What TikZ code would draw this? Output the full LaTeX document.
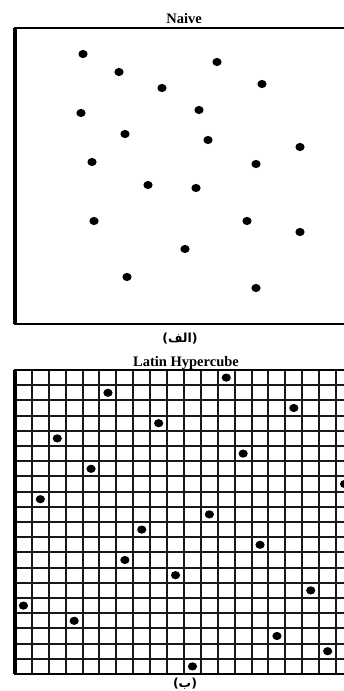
\documentclass[tikz,border=0pt]{standalone}
\usepackage{fontspec}
\setmainfont{Liberation Serif}
\newfontfamily\arabicfont[Script=Arabic]{DejaVu Sans}
\newfontfamily\parenfont{DejaVu Sans}
\TeXXeTstate=1

\tikzset{
  frame/.style={draw=black, line width=2.4pt},
  gridline/.style={draw=black!90, line width=1.7pt},
  dot/.style={fill=black},
  title/.style={font=\fontsize{14.5}{17}\selectfont\bfseries, anchor=base, inner sep=0pt},
  caption/.style={font=\fontsize{12.5}{15}\selectfont\bfseries, inner sep=0pt}
}

\begin{document}
\begin{tikzpicture}[x=1pt, y=-1pt]
  \useasboundingbox (0,0) rectangle (344,691);
  \clip (0,0) rectangle (344,691);
  \fill[white] (0,0) rectangle (344,691);

  % Naive
  \coordinate (NA) at (15,28);
  \coordinate (NB) at (353,324);
  \node[title] (naive) at (184,23) {Naive};
  \draw[frame] (NA) rectangle (NB);
  \draw[line width=3.4pt] (NA) -- (NA |- NB);
  \foreach \x/\y in {83/54, 119/72, 217/62, 162/88, 262/84, 81/113, 199/110,
                     125/134, 208/140, 300/147, 92/162, 256/164, 148/185,
                     196/188, 94/221, 247/221, 300/232, 185/249, 127/277, 256/288}
    \fill[dot] (\x,\y) ellipse (4.6 and 4.1);
  \node[caption] (capA) at (180,339) {\parenfont(\arabicfont\beginR الف\endR\parenfont)};

  % Latin Hypercube
  \coordinate (LA) at (15,370);
  \coordinate (LB) at (353,674);
  \node[title] (lhc) at (186,366) {Latin Hypercube};
  \foreach \i in {1,...,19}
    \draw[gridline] ({round(15+16.9*\i)},370) -- ({round(15+16.9*\i)},674);
  \foreach \j in {1,...,19}
    \draw[gridline] (15,{round(370+15.2*\j)}) -- (353,{round(370+15.2*\j)});
  \draw[frame, line width=2pt] (LA) rectangle (LB);
  \draw[line width=3.4pt] (LA) -- (LA |- LB);
  \foreach \r/\c in {0/12, 1/5, 2/16, 3/8, 4/2, 5/13, 6/4, 7/19, 8/1, 9/11,
                     10/7, 11/14, 12/6, 13/9, 14/17, 15/0, 16/3, 17/15, 18/18, 19/10}
    \fill[dot] ({15+16.9*(\c+0.5)},{370+15.2*(\r+0.5)}) ellipse (4.6 and 4.1);
  \node[caption] (capB) at (185,684) {\parenfont(\arabicfont\beginR ب\endR\parenfont)};
\end{tikzpicture}
\end{document}
